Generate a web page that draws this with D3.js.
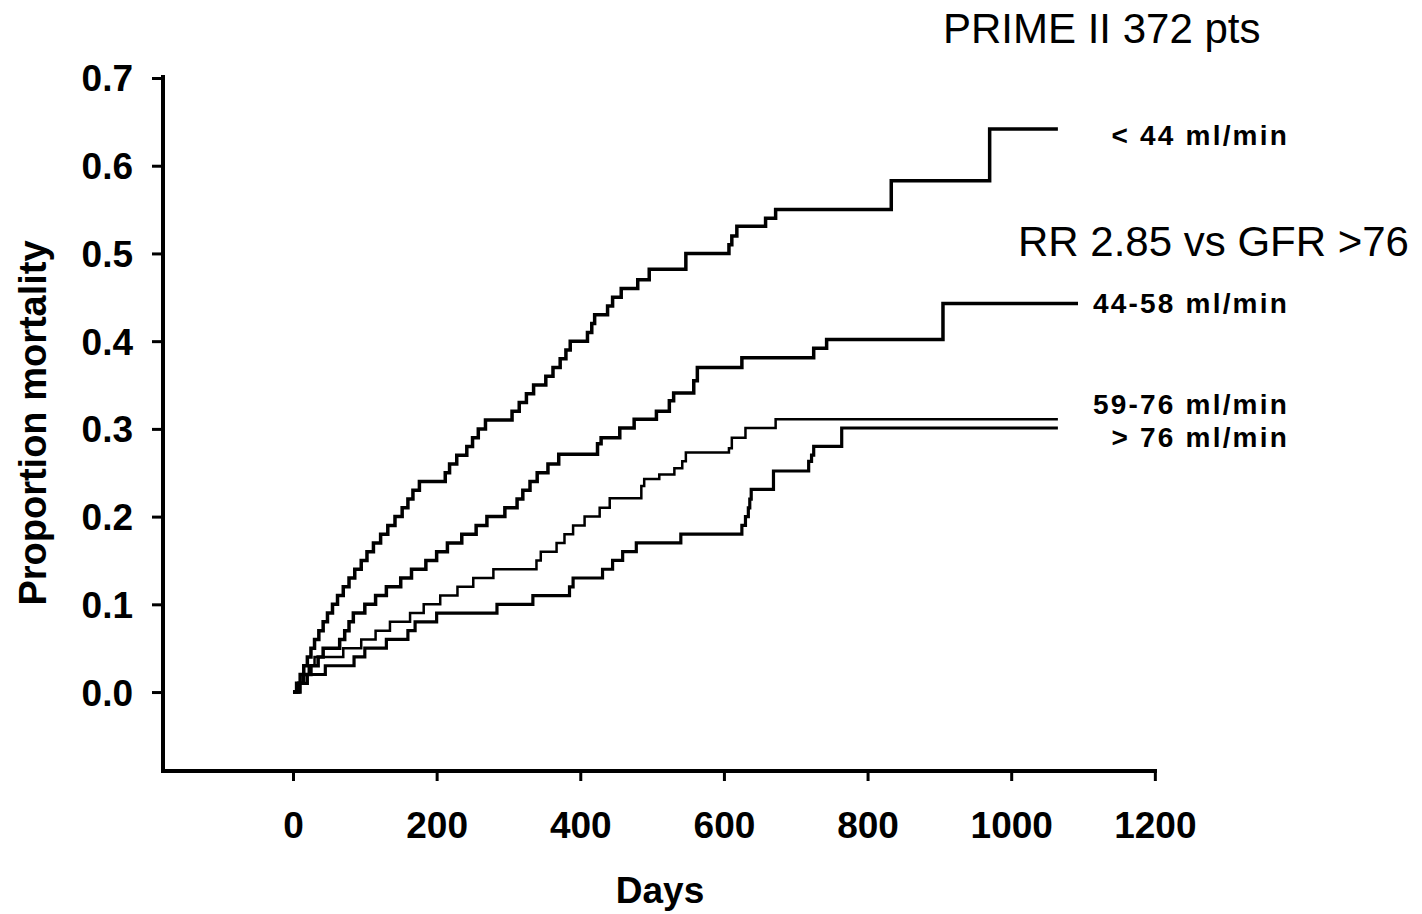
<!DOCTYPE html>
<html>
<head>
<meta charset="utf-8">
<script src="https://cdn.jsdelivr.net/npm/d3@7"></script>
<style>
  html, body { margin: 0; padding: 0; background: #fff; }
  svg { display: block; }
  text { font-family: "Liberation Sans", Arial, Helvetica, sans-serif; fill: #000; }
</style>
</head>
<body>
<svg id="chart" width="1422" height="914"></svg>
<script>
// ---- data ----
const xTicks = [0, 200, 400, 600, 800, 1000, 1200];
const yTicks = [0.0, 0.1, 0.2, 0.3, 0.4, 0.5, 0.6, 0.7];
const seriesNames = ["< 44 ml/min", "44-58 ml/min", "59-76 ml/min", "> 76 ml/min"];

// < 44 ml/min
const days1 = [0, 5, 10, 15, 20, 25, 30, 36, 42, 48, 55, 62, 70, 78, 86, 95, 103, 112, 122, 132, 142, 152, 160, 167, 176, 212, 218, 228, 242, 250, 258, 268, 305, 315, 325, 335, 352, 362, 372, 380, 386, 410, 416, 420, 438, 445, 457, 480, 496, 547, 607, 611, 618, 658, 672, 833, 970, 1065];
const vals1 = [0, 0.01, 0.02, 0.03, 0.04, 0.05, 0.06, 0.07, 0.08, 0.09, 0.10, 0.11, 0.12, 0.13, 0.14, 0.15, 0.16, 0.17, 0.18, 0.19, 0.20, 0.21, 0.22, 0.23, 0.24, 0.25, 0.26, 0.27, 0.28, 0.29, 0.30, 0.31, 0.32, 0.33, 0.34, 0.35, 0.36, 0.37, 0.38, 0.39, 0.40, 0.41, 0.42, 0.43, 0.44, 0.45, 0.46, 0.47, 0.482, 0.50, 0.51, 0.52, 0.531, 0.54, 0.55, 0.583, 0.642, 0.642];

// 44-58 ml/min
const days2 = [0, 8, 15, 25, 35, 42, 65, 72, 78, 84, 100, 115, 130, 150, 165, 185, 200, 215, 235, 255, 270, 295, 312, 320, 330, 340, 355, 370, 424, 429, 455, 475, 506, 524, 530, 558, 563, 625, 725, 743, 905, 1093];
const vals2 = [0, 0.01, 0.02, 0.03, 0.04, 0.05, 0.06, 0.07, 0.08, 0.09, 0.10, 0.11, 0.12, 0.13, 0.14, 0.15, 0.16, 0.17, 0.18, 0.19, 0.20, 0.21, 0.22, 0.23, 0.24, 0.25, 0.26, 0.271, 0.283, 0.29, 0.301, 0.311, 0.32, 0.332, 0.341, 0.355, 0.37, 0.381, 0.392, 0.402, 0.443, 0.443];

// 59-76 ml/min
const days3 = [0, 8, 15, 22, 30, 70, 95, 115, 135, 163, 182, 205, 229, 251, 279, 339, 345, 367, 378, 390, 406, 427, 441, 485, 489, 510, 531, 542, 547, 607, 611, 630, 672, 1065];
const vals3 = [0, 0.01, 0.02, 0.03, 0.04, 0.05, 0.06, 0.07, 0.08, 0.09, 0.10, 0.11, 0.12, 0.13, 0.14, 0.15, 0.16, 0.17, 0.18, 0.19, 0.20, 0.21, 0.221, 0.235, 0.243, 0.248, 0.255, 0.263, 0.273, 0.278, 0.29, 0.301, 0.311, 0.311];

// > 76 ml/min
const days4 = [0, 10, 20, 45, 85, 100, 130, 160, 170, 200, 284, 334, 385, 390, 431, 445, 459, 478, 540, 625, 630, 634, 636, 638, 669, 718, 722, 725, 764, 1065];
const vals4 = [0, 0.01, 0.02, 0.03, 0.04, 0.05, 0.06, 0.07, 0.08, 0.09, 0.10, 0.11, 0.12, 0.13, 0.14, 0.15, 0.16, 0.17, 0.18, 0.19, 0.20, 0.21, 0.22, 0.231, 0.252, 0.263, 0.27, 0.28, 0.301, 0.301];

const annotTitle = "PRIME II 372 pts";
const annotRR = "RR 2.85 vs GFR >76";

// ---- layout ----
const svg = d3.select("#chart");
const x = d3.scaleLinear().domain([-181, 1203]).range([163, 1157]);
const y = d3.scaleLinear().domain([-0.09, 0.7]).range([771, 78]);

const font = '"Liberation Sans", Arial, Helvetica, sans-serif';

// Y axis
const yAxis = d3.axisLeft(y).tickValues(yTicks).tickFormat(d3.format(".1f")).tickSize(11).tickSizeOuter(0).tickPadding(19);
const gy = svg.append("g").attr("transform", `translate(${x.range()[0]},0)`).call(yAxis);
gy.select(".domain").attr("stroke", "#000").attr("stroke-width", 4)
  .attr("d", `M0,75V${y.range()[0] + 2}`);
gy.selectAll(".tick line").attr("stroke", "#000").attr("stroke-width", 3);
gy.selectAll(".tick text").attr("font-family", font).attr("font-weight", "bold").attr("font-size", 37).attr("fill", "#000").attr("dy", "0.35em");

// X axis
const xAxis = d3.axisBottom(x).tickValues(xTicks).tickFormat(d3.format("d")).tickSize(10).tickSizeOuter(0);
const gx = svg.append("g").attr("transform", `translate(0,${y.range()[0]})`).call(xAxis);
gx.select(".domain").attr("stroke", "#000").attr("stroke-width", 4)
  .attr("d", `M${x.range()[0] - 2},0H${x.range()[1]}`);
gx.selectAll(".tick line").attr("stroke", "#000").attr("stroke-width", 3);
gx.selectAll(".tick text").attr("font-family", font).attr("font-weight", "bold").attr("font-size", 37).attr("fill", "#000")
  .attr("y", 67).attr("dy", null);

// Axis titles
svg.append("text").attr("x", 660).attr("y", 903).attr("text-anchor", "middle")
  .attr("font-weight", "bold").attr("font-size", 37).text("Days");
svg.append("text").attr("transform", "translate(46,423) rotate(-90)").attr("text-anchor", "middle")
  .attr("font-weight", "bold").attr("font-size", 38).text("Proportion mortality");

// Curves
const line = d3.line().x(d => x(d[0])).y(d => y(d[1])).curve(d3.curveStepAfter);
const curves = [
  { days: days1, vals: vals1, w: 3.5 },
  { days: days2, vals: vals2, w: 3.5 },
  { days: days3, vals: vals3, w: 2.5 },
  { days: days4, vals: vals4, w: 3.2 }
];
curves.forEach(c => {
  const pts = c.days.map((d, i) => [d, c.vals[i]]);
  svg.append("path").attr("d", line(pts)).attr("fill", "none").attr("stroke", "#000")
    .attr("stroke-width", c.w).attr("stroke-linejoin", "miter");
});

// Series labels
const labelBaselines = [145, 313, 414, 447];
seriesNames.forEach((n, i) => {
  svg.append("text").attr("x", 1289).attr("y", labelBaselines[i]).attr("text-anchor", "end")
    .attr("font-weight", "bold").attr("font-size", 28).attr("letter-spacing", 2.2).text(n);
});

// Annotations
svg.append("text").attr("x", 943).attr("y", 43).attr("font-size", 42).text(annotTitle);
svg.append("text").attr("x", 1018).attr("y", 256).attr("font-size", 42).text(annotRR);
</script>
</body>
</html>
